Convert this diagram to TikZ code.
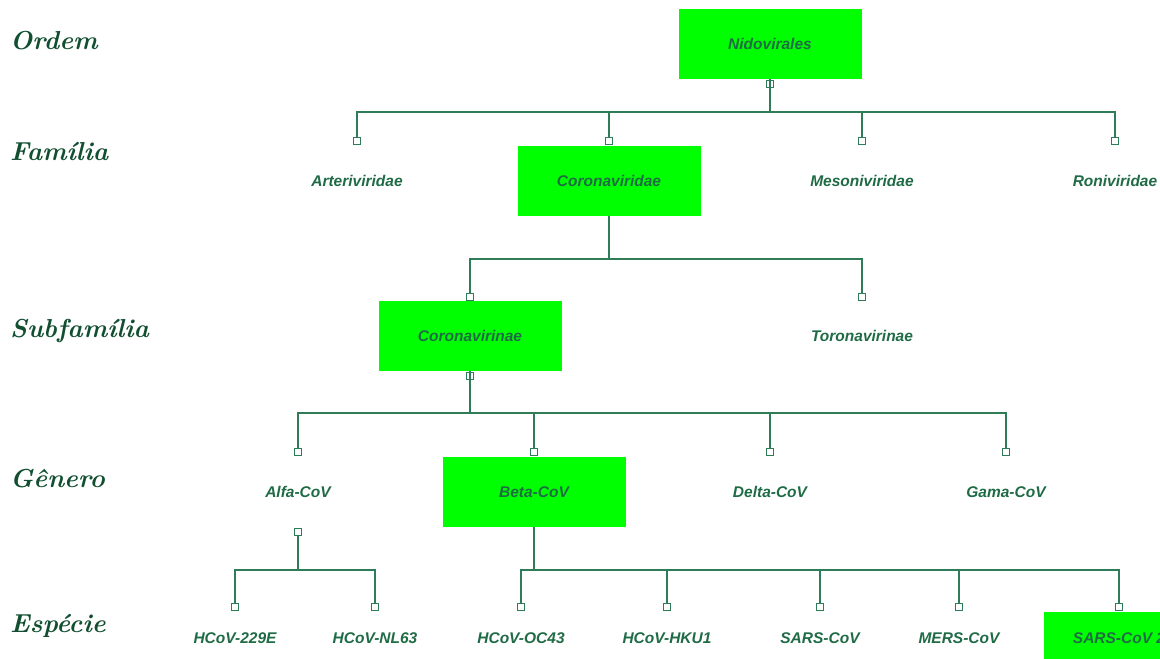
\documentclass[tikz,border=0pt]{standalone}
\usepackage{fontspec}
\newfontfamily\taxfont{Liberation Sans}
\definecolor{vivid}{HTML}{00FF00}
\definecolor{labelgreen}{HTML}{124F30}
\definecolor{textgreen}{HTML}{1F6B45}
\definecolor{linegreen}{HTML}{2F7D58}
\tikzset{
  lbl/.style={text=labelgreen, font=\bfseries\itshape\fontsize{26}{30}\selectfont, anchor=base west, inner sep=0pt},
  taxon/.style={text=textgreen, font=\taxfont\bfseries\itshape\fontsize{15.5}{18}\selectfont, text height=11pt, text depth=0pt, inner sep=0pt},
  hl/.style={taxon, fill=vivid, minimum width=183pt, minimum height=70pt},
  hlbox/.style={fill=vivid, minimum width=183pt, minimum height=70pt, inner sep=0pt},
  sq/.style={draw=linegreen, fill=white, minimum size=7pt, inner sep=0pt, line width=1.1pt},
  psq/.style={draw=linegreen, minimum size=7pt, inner sep=0pt, line width=1.1pt},
  conn/.style={draw=linegreen, line width=1.5pt}
}
\begin{document}
\begin{tikzpicture}[x=1pt,y=-1pt]
\useasboundingbox (0,0) rectangle (1160,659);
\clip (0,0) rectangle (1160,659);
% rank labels
\node[lbl] (lordem) at (10,49) {Ordem};
\node[lbl] (lfam) at (10,160) {Família};
\node[lbl] (lsubfam) at (10,337) {Subfamília};
\node[lbl] (lgen) at (10,487) {Gênero};
\node[lbl] (lesp) at (10,632) {Espécie};
% order
\node[hl] (nido) at (770,44) {Nidovirales};
\coordinate (snido) at (770,84);
\coordinate (bnido) at (770,112);
% family
\node[sq] (sart) at (357,141) {};
\node[sq] (scor) at (609,141) {};
\node[sq] (smes) at (862,141) {};
\node[sq] (sron) at (1115,141) {};
\node[taxon] (art) at (357,181) {Arteriviridae};
\node[hl] (cor) at (609,181) {Coronaviridae};
\node[taxon] (mes) at (862,181) {Mesoniviridae};
\node[taxon] (ron) at (1115,181) {Roniviridae};
\coordinate (bcor) at (609,259);
% subfamily
\node[sq] (scvi) at (470,297) {};
\node[sq] (stor) at (862,297) {};
\node[hl] (cvi) at (470,336) {Coronavirinae};
\node[taxon] (tor) at (862,336) {Toronavirinae};
\coordinate (scvi2) at (470,376);
\coordinate (bcvi) at (470,413);
% genus
\node[sq] (salfa) at (298,452) {};
\node[sq] (sbeta) at (534,452) {};
\node[sq] (sdelta) at (770,452) {};
\node[sq] (sgama) at (1006,452) {};
\node[taxon] (alfa) at (298,492) {Alfa-CoV};
\node[hl] (beta) at (534,492) {Beta-CoV};
\node[taxon] (delta) at (770,492) {Delta-CoV};
\node[taxon] (gama) at (1006,492) {Gama-CoV};
\node[sq] (salfa2) at (298,532) {};
\coordinate (balfa) at (298,570);
\coordinate (bbeta) at (534,570);
% species
\node[sq] (s229) at (235,607) {};
\node[sq] (snl63) at (375,607) {};
\node[sq] (soc43) at (521,607) {};
\node[sq] (shku1) at (667,607) {};
\node[sq] (ssars) at (820,607) {};
\node[sq] (smers) at (959,607) {};
\node[hlbox, anchor=north west] (sars2box) at (1044,612) {};
\node[sq] (ssars2) at (1119,607) {};
\node[taxon] (c229) at (235,638) {HCoV-229E};
\node[taxon] (nl63) at (375,638) {HCoV-NL63};
\node[taxon] (oc43) at (521,638) {HCoV-OC43};
\node[taxon] (hku1) at (667,638) {HCoV-HKU1};
\node[taxon] (sars) at (820,638) {SARS-CoV};
\node[taxon] (mers) at (959,638) {MERS-CoV};
\node[taxon] (sars2) at (1119,638) {SARS-CoV 2};
% connectors
\draw[conn] (nido.south) -- (bnido);
\draw[conn] (sart.north) |- (bnido) -| (sron.north);
\draw[conn] (scor.north) -- (scor.north |- bnido);
\draw[conn] (smes.north) -- (smes.north |- bnido);
\draw[conn] (cor.south) -- (bcor);
\draw[conn] (scvi.north) |- (bcor) -| (stor.north);
\draw[conn] (cvi.south) -- (bcvi);
\draw[conn] (salfa.north) |- (bcvi) -| (sgama.north);
\draw[conn] (sbeta.north) -- (sbeta.north |- bcvi);
\draw[conn] (sdelta.north) -- (sdelta.north |- bcvi);
\draw[conn] (salfa2.south) -- (balfa);
\draw[conn] (s229.north) |- (balfa) -| (snl63.north);
\draw[conn] (beta.south) -- (bbeta);
\draw[conn] (soc43.north) |- (bbeta) -| (ssars2.north);
\draw[conn] (shku1.north) -- (shku1.north |- bbeta);
\draw[conn] (ssars.north) -- (ssars.north |- bbeta);
\draw[conn] (smers.north) -- (smers.north |- bbeta);
% parent squares drawn over the lines
\node[psq] (snidosq) at (snido) {};
\node[psq] (scvisq) at (scvi2) {};
\end{tikzpicture}
\end{document}
